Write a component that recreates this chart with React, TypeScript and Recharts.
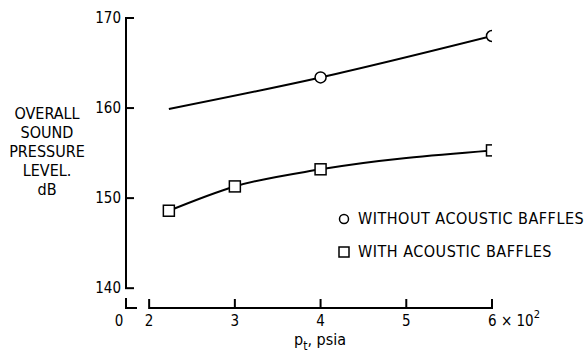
import React from 'react';
import { LineChart, Line, XAxis, YAxis, ReferenceLine, Legend } from 'recharts';

// ---- data ----
const pressureWithout = [2.23, 4, 6];
const splWithout = [159.9, 163.4, 168.0];
const pressureWith = [2.23, 3, 4, 6];
const splWith = [148.6, 151.3, 153.2, 155.3];
const xTicks = [2, 3, 4, 5, 6];
const yTicks = [140, 150, 160, 170];
const seriesNames = ['WITHOUT ACOUSTIC BAFFLES', 'WITH ACOUSTIC BAFFLES'];
const yLabelLines = ['OVERALL', 'SOUND', 'PRESSURE', 'LEVEL.', 'dB'];
const xLabelMain = 'p';
const xLabelSub = 't';
const xLabelRest = ', psia';
const breakLabel = '0';

const X_MIN = 1.73;
const X_MAX = 6;
const Y_MIN = 137.8;
const Y_MAX = 170;

const FONT = '"DejaVu Sans Condensed", "DejaVu Sans", sans-serif';
const TXT: React.CSSProperties = { fontStretch: 'condensed' };

const withoutData = pressureWithout.map((x, i) => ({ x, spl: splWithout[i] }));
const withData = pressureWith.map((x, i) => ({ x, spl: splWith[i] }));

const YTick = (props: any) => {
  const { x, y, payload } = props;
  if (payload.value === Y_MIN) {
    return (
      <g>
        <path d={`M${x},${y - 10} L${x},${y} L${x + 11},${y}`} stroke="#000" strokeWidth={2} fill="none" />
        <text x={x - 7} y={y + 13} textAnchor="middle" dominantBaseline="central" fontSize={15} fontFamily={FONT} style={TXT} fill="#000">
          {breakLabel}
        </text>
      </g>
    );
  }
  return (
    <g>
      <line x1={x - 1} x2={x + 8} y1={y} y2={y} stroke="#000" strokeWidth={2} />
      <text x={x - 5} y={y} textAnchor="end" dominantBaseline="central" fontSize={15} fontFamily={FONT} style={TXT} fill="#000">
        {payload.value}
      </text>
    </g>
  );
};

const XTick = (props: any) => {
  const { x, y, payload } = props;
  const last = payload.value === xTicks[xTicks.length - 1];
  return (
    <g>
      <line x1={x} x2={x} y1={y + 1} y2={y - 9} stroke="#000" strokeWidth={2} />
      {last ? (
        <text x={x - 4} y={y + 13} textAnchor="start" dominantBaseline="central" fontSize={15} fontFamily={FONT} style={TXT} fill="#000">
          {payload.value} × 10
          <tspan dy={-7} fontSize={11}>2</tspan>
        </text>
      ) : (
        <text x={x} y={y + 13} textAnchor="middle" dominantBaseline="central" fontSize={15} fontFamily={FONT} style={TXT} fill="#000">
          {payload.value}
        </text>
      )}
    </g>
  );
};

const YLabel = (props: any) => {
  const vb = props.viewBox || { x: 0, y: 0 };
  return (
    <text textAnchor="middle" fontSize={16} fontFamily={FONT} style={TXT} fill="#000">
      {yLabelLines.map((t, i) => (
        <tspan key={t} x={vb.x + 47} y={vb.y + 95 + i * 19} dominantBaseline="central">
          {t}
        </tspan>
      ))}
    </text>
  );
};

const XLabel = (props: any) => {
  const vb = props.viewBox || { x: 0, y: 0, width: 0 };
  return (
    <text x={vb.x + vb.width / 2 + 11} y={vb.y + 37} textAnchor="middle" fontSize={16} fontFamily={FONT} style={TXT} fill="#000">
      {xLabelMain}
      <tspan dy={5} fontSize={12}>{xLabelSub}</tspan>
      <tspan dy={-5}>{xLabelRest}</tspan>
    </text>
  );
};

const CircleDot = (props: any) => {
  const { cx, cy, index } = props;
  if (index === 0) return <g key={`c${index}`} />;
  return <circle key={`c${index}`} cx={cx} cy={cy} r={5.5} fill="#fff" stroke="#000" strokeWidth={1.5} />;
};

const SquareDot = (props: any) => {
  const { cx, cy, index } = props;
  return <rect key={`s${index}`} x={cx - 5.5} y={cy - 5.5} width={11} height={11} fill="#fff" stroke="#000" strokeWidth={1.5} />;
};

const LegendContent = () => (
  <div style={{ fontFamily: FONT, fontStretch: 'condensed', fontSize: 16, color: '#000' }}>
    {seriesNames.map((name, i) => (
      <div key={name} style={{ height: 33, display: 'flex', alignItems: 'center' }}>
        <svg width={12} height={12} style={{ display: 'block' }}>
          {i === 0 ? (
            <circle cx={6} cy={6} r={4.5} fill="#fff" stroke="#000" strokeWidth={1.5} />
          ) : (
            <rect x={1} y={1} width={10} height={10} fill="#fff" stroke="#000" strokeWidth={1.5} />
          )}
        </svg>
        <span style={{ marginLeft: 8, letterSpacing: 0.5, whiteSpace: 'nowrap' }}>{name}</span>
      </div>
    ))}
  </div>
);

export default function App() {
  return (
    <div style={{ position: 'absolute', left: 0, top: 0, width: 588, height: 360, background: '#fff' }}>
      <LineChart width={588} height={360} margin={{ top: 18, right: 96, bottom: 22, left: 0 }}>
        <XAxis
          type="number"
          dataKey="x"
          domain={[X_MIN, X_MAX]}
          ticks={xTicks}
          interval={0}
          allowDataOverflow
          axisLine={false}
          tickLine={false}
          tickSize={0}
          tickMargin={0}
          height={30}
          tick={<XTick />}
          label={<XLabel />}
        />
        <YAxis
          type="number"
          domain={[Y_MIN, Y_MAX]}
          ticks={[Y_MIN, ...yTicks]}
          interval={0}
          allowDataOverflow
          axisLine={false}
          tickLine={false}
          tickSize={0}
          tickMargin={0}
          width={126}
          tick={<YTick />}
          label={<YLabel />}
        />
        <ReferenceLine segment={[{ x: X_MIN, y: yTicks[0] }, { x: X_MIN, y: Y_MAX }]} stroke="#000" strokeWidth={2} />
        <ReferenceLine segment={[{ x: xTicks[0], y: Y_MIN }, { x: X_MAX, y: Y_MIN }]} stroke="#000" strokeWidth={2} />
        <Legend
          layout="vertical"
          verticalAlign="middle"
          align="center"
          wrapperStyle={{ left: 338, top: 202, width: 260 }}
          content={<LegendContent />}
        />
        <Line
          data={withoutData}
          dataKey="spl"
          name={seriesNames[0]}
          type="monotone"
          stroke="#000"
          strokeWidth={2}
          dot={CircleDot}
          activeDot={false}
          isAnimationActive={false}
        />
        <Line
          data={withData}
          dataKey="spl"
          name={seriesNames[1]}
          type="monotone"
          stroke="#000"
          strokeWidth={2}
          dot={SquareDot}
          activeDot={false}
          isAnimationActive={false}
        />
      </LineChart>
    </div>
  );
}
